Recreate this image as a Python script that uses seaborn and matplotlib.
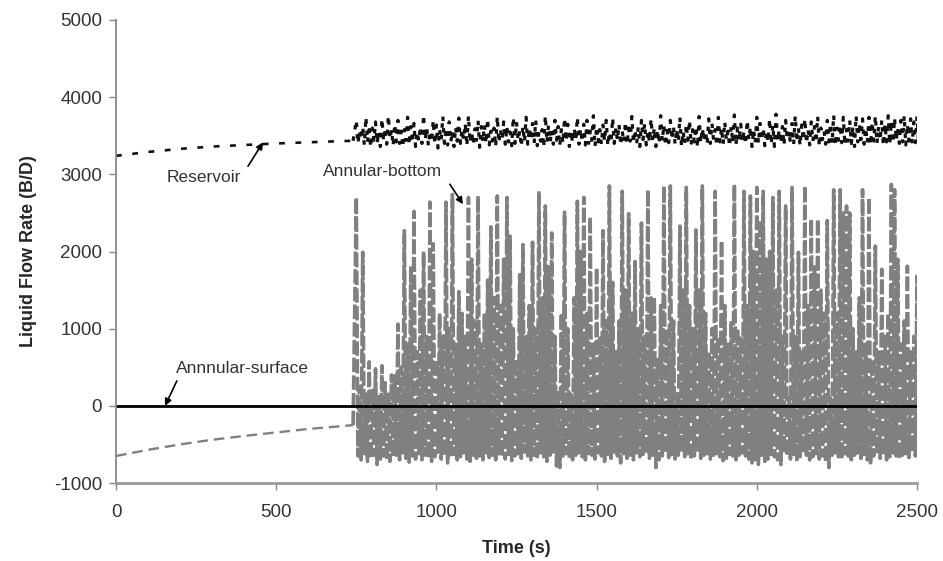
import numpy as np
import pandas as pd
import matplotlib
matplotlib.use("Agg")
import matplotlib.pyplot as plt
import seaborn as sns

# ---------------- data ----------------
# smooth (pre-instability) part, time in s
pre_t = [0, 100, 200, 300, 400, 500, 600, 700, 740]
res_pre = [3240, 3290, 3330, 3360, 3380, 3400, 3415, 3430, 3435]
ab_pre = [-650, -570, -500, -440, -390, -345, -300, -265, -250]

# annular-bottom oscillation after 750 s: one peak + one trough every 10 s
ab_start, ab_step = 750, 10
ab_peaks = [
    2700, 250, 1990, 150, 570, 200, 480, 120, 520, 300,
    150, 400, 390, 1060, 500, 2270, 800, 1810, 2520, 700,
    1500, 2000, 900, 2640, 2100, 600, 1200, 900, 2640, 1000,
    2740, 800, 1480, 1200, 900, 2700, 1900, 1100, 2720, 800,
    1200, 1630, 2320, 1400, 2720, 1300, 1900, 2700, 2200, 1000,
    600, 1700, 2090, 900, 1300, 2120, 1000, 2780, 1400, 2590,
    1800, 2240, 900, 200, 1200, 2510, 1000, 150, 1400, 2650,
    2000, 2700, 1200, 2450, 800, 1790, 900, 2270, 1100, 2850,
    1600, 700, 1100, 2780, 1500, 2490, 1200, 1870, 1000, 2370,
    900, 2800, 1400, 1410, 600, 1300, 2850, 1000, 2850, 1100,
    150, 2330, 1500, 2830, 1300, 1000, 2280, 1500, 2850, 1200,
    700, 1000, 2780, 900, 2140, 1300, 800, 1100, 2870, 1000,
    900, 2780, 1300, 2720, 2000, 2830, 2400, 2780, 1900, 2000,
    2700, 1500, 2780, 900, 2590, 100, 2830, 900, 1990, 700,
    2850, 1300, 2420, 1800, 2420, 1500, 1200, 2400, 100, 2800,
    1200, 2800, 2500, 2590, 2500, 1000, 700, 1400, 2800, 800,
    2700, 600, 2070, 700, 1770, 900, 1200, 2870, 2800, 1900,
    800, 1100, 1810, 700, 900, 1680,
]
ab_troughs = [
    -650, -700, -620, -720, -680, -640, -760, -690, -650, -700,
    -720, -660, -640, -700, -610, -680, -730, -650, -690, -620,
    -700, -640, -680, -720, -660, -600, -690, -650, -740, -670,
    -630, -700, -660, -610, -690, -720, -640, -680, -650, -700,
    -610, -670, -640, -700, -620, -660, -690, -630, -710, -650,
    -620, -680, -600, -650, -700, -640, -690, -610, -660, -720,
    -640, -600, -780, -800, -650, -620, -680, -700, -640, -610,
    -660, -700, -620, -640, -690, -610, -650, -720, -630, -680,
    -600, -650, -740, -620, -680, -640, -700, -610, -660, -630,
    -620, -680, -640, -800, -700, -650, -610, -670, -630, -690,
    -640, -600, -660, -620, -700, -650, -610, -680, -640, -620,
    -690, -640, -620, -660, -710, -680, -630, -650, -700, -640,
    -610, -650, -690, -740, -700, -760, -640, -720, -690, -630,
    -660, -700, -760, -610, -650, -690, -630, -720, -660, -610,
    -640, -700, -660, -620, -690, -650, -730, -800, -640, -610,
    -660, -690, -620, -650, -700, -640, -610, -680, -630, -700,
    -760, -650, -620, -680, -640, -700, -660, -610, -650, -690,
    -640, -620, -670, -600, -650, -630,
]

# reservoir oscillation after 750 s: one peak + one trough every 10 s
res_start, res_step = 750, 10
res_peaks = [
    3700, 3560, 3620, 3740, 3580, 3600, 3680, 3550, 3720, 3600,
    3760, 3580, 3650, 3700, 3560, 3580, 3740, 3620, 3660, 3550,
    3620, 3770, 3600, 3560, 3700, 3640, 3580, 3750, 3600, 3680,
    3560, 3610, 3730, 3580, 3660, 3760, 3550, 3590, 3700, 3620,
    3640, 3720, 3560, 3600, 3750, 3580, 3680, 3620, 3550, 3740,
    3680, 3560, 3620, 3740, 3600, 3660, 3700, 3550, 3580, 3760,
    3640, 3570, 3700, 3620, 3580, 3730, 3650, 3560, 3600, 3740,
    3590, 3650, 3700, 3560, 3760, 3620, 3580, 3640, 3700, 3550,
    3730, 3600, 3650, 3560, 3680, 3600, 3750, 3580, 3610, 3700,
    3660, 3560, 3720, 3600, 3580, 3760, 3640, 3570, 3700, 3620,
    3590, 3740, 3560, 3650, 3700, 3580, 3620, 3750, 3600, 3560,
    3720, 3660, 3580, 3740, 3600, 3680, 3560, 3620, 3770, 3600,
    3650, 3560, 3700, 3620, 3580, 3740, 3660, 3600, 3560, 3720,
    3640, 3780, 3580, 3620, 3700, 3560, 3660, 3760, 3600, 3640,
    3720, 3580, 3680, 3620, 3750, 3600, 3560, 3700, 3660, 3770,
    3600, 3640, 3740, 3580, 3700, 3620, 3760, 3660, 3720, 3600,
    3740, 3680, 3760, 3620, 3700, 3650, 3760, 3690, 3730, 3600,
    3700, 3760, 3650, 3720, 3680, 3750,
]
res_troughs = [
    3400, 3450, 3380, 3420, 3350, 3440, 3400, 3360, 3430, 3390,
    3460, 3370, 3420, 3400, 3350, 3440, 3380, 3410, 3360, 3430,
    3400, 3450, 3370, 3420, 3390, 3340, 3440, 3400, 3380, 3420,
    3360, 3430, 3400, 3450, 3370, 3410, 3390, 3440, 3350, 3420,
    3400, 3380, 3430, 3360, 3410, 3450, 3390, 3420, 3370, 3400,
    3440, 3360, 3420, 3390, 3450, 3400, 3370, 3430, 3350, 3410,
    3420, 3390, 3440, 3370, 3400, 3430, 3360, 3410, 3450, 3390,
    3420, 3380, 3400, 3440, 3360, 3420, 3390, 3430, 3370, 3410,
    3400, 3440, 3380, 3420, 3390, 3430, 3410, 3400, 3360, 3450,
    3380, 3420, 3440, 3360, 3400, 3430, 3370, 3410, 3450, 3390,
    3430, 3360, 3400, 3440, 3380, 3420, 3350, 3410, 3440, 3390,
    3400, 3450, 3370, 3420, 3390, 3440, 3360, 3410, 3380, 3430,
    3420, 3390, 3450, 3360, 3410, 3400, 3440, 3370, 3420, 3390,
    3360, 3430, 3400, 3380, 3450, 3410, 3390, 3420, 3370, 3440,
    3400, 3380, 3430, 3410, 3360, 3450, 3390, 3420, 3400, 3370,
    3440, 3410, 3380, 3430, 3400, 3360, 3420, 3450, 3390, 3410,
    3380, 3430, 3400, 3440, 3370, 3420, 3390, 3410, 3440, 3400,
    3420, 3380, 3430, 3400, 3410, 3390,
]

surf_t = [0, 2500]
surf_q = [0, 0]

x_ticks = [0, 500, 1000, 1500, 2000, 2500]
y_ticks = [-1000, 0, 1000, 2000, 3000, 4000, 5000]


def osc(pre_x, pre_y, start, step, peaks, troughs):
    t = [pre_x[-1]]
    q = [pre_y[-1]]
    for i in range(len(peaks)):
        t.append(start + step * i)
        q.append(peaks[i])
        t.append(start + step * i + step / 2)
        q.append(troughs[i])
    return pd.DataFrame({"t": t, "q": q})


ab_pre_df = pd.DataFrame({"t": pre_t, "q": ab_pre})
res_pre_df = pd.DataFrame({"t": pre_t, "q": res_pre})
ab_df = osc(pre_t, ab_pre, ab_start, ab_step, ab_peaks, ab_troughs)
res_df = osc(pre_t, res_pre, res_start, res_step, res_peaks, res_troughs)
surf_df = pd.DataFrame({"t": surf_t, "q": surf_q})

# ---------------- plot ----------------
sns.set_style("ticks")
plt.rcParams["font.family"] = ["Liberation Sans", "DejaVu Sans"]
plt.rcParams["axes.unicode_minus"] = False

fig = plt.figure(figsize=(9.43, 5.61), dpi=100)
ax = fig.add_axes([116 / 943, 1 - 483 / 561, (917 - 116) / 943, (483 - 20) / 561])

gray = "#808080"
sns.lineplot(data=ab_pre_df, x="t", y="q", ax=ax, estimator=None, sort=False,
             color=gray, linewidth=1.7, linestyle=(0, (4.5, 2.5)))
sns.lineplot(data=ab_df, x="t", y="q", ax=ax, estimator=None, sort=False,
             color=gray, linewidth=2.6, linestyle=(0, (4.0, 0.9)))
sns.lineplot(data=res_pre_df, x="t", y="q", ax=ax, estimator=None, sort=False,
             color="#111111", linewidth=1.9, linestyle=(0, (2.2, 4.0)))
sns.lineplot(data=res_df, x="t", y="q", ax=ax, estimator=None, sort=False,
             color="#111111", linewidth=2.3, linestyle=(0, (1.4, 2.2)))
sns.lineplot(data=surf_df, x="t", y="q", ax=ax, estimator=None, sort=False,
             color="black", linewidth=2.0)

ax.set_xlim(0, 2500)
ax.set_ylim(-1000, 5000)
ax.set_xticks(x_ticks)
ax.set_yticks(y_ticks)
ax.tick_params(axis="both", labelsize=13.5, labelcolor="#333333", color="#888888",
               length=5, width=1.0, direction="out")
ax.tick_params(axis="x", pad=10)
ax.tick_params(axis="y", pad=5)
for s in ["top", "right"]:
    ax.spines[s].set_visible(False)
ax.spines["left"].set_color("#888888")
ax.spines["bottom"].set_color("#999999")
ax.spines["left"].set_linewidth(1.3)
ax.spines["bottom"].set_linewidth(2.0)

ax.set_xlabel("Time (s)", fontsize=13, fontweight="bold", labelpad=14)
ax.set_ylabel("Liquid Flow Rate (B/D)", fontsize=13, fontweight="bold", labelpad=12)

arrow = dict(arrowstyle="-|>", color="black", lw=1.2, mutation_scale=10,
             shrinkA=0, shrinkB=0)
ax.text(275, 2962, "Reservoir", ha="center", va="center", fontsize=12.5, color="#333333")
ax.annotate("", xy=(459, 3415), xytext=(412, 3105), arrowprops=arrow)
ax.text(833, 3040, "Annular-bottom", ha="center", va="center", fontsize=12.5, color="#333333")
ax.annotate("", xy=(1083, 2613), xytext=(1042, 2872), arrowprops=arrow)
ax.text(396, 480, "Annnular-surface", ha="center", va="center", fontsize=12.5, color="#333333")
ax.annotate("", xy=(153, 0), xytext=(190, 323), arrowprops=arrow)

fig.savefig("out.png", dpi=100)
